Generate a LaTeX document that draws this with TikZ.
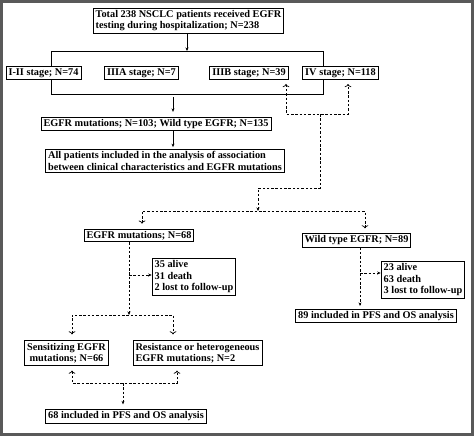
\documentclass[tikz,border=0pt]{standalone}
\usepackage{fontspec}
\setmainfont{Liberation Serif}
\usetikzlibrary{arrows.meta}

\tikzset{
  box/.style={draw, line width=0.9pt, align=left, inner xsep=2.5pt, inner ysep=2pt,
    font=\fontsize{10.3}{11.5}\selectfont\bfseries},
  link/.style={line width=0.7pt, -{Stealth[length=3.5pt,width=3pt]}},
  dlink/.style={link, dash pattern=on 2.5pt off 1.8pt},
}

\begin{document}
\begin{tikzpicture}[x=1pt,y=-1pt]
    % Marco
    \useasboundingbox (0,0) rectangle (474,436);
    \draw[gray!70!black, line width=3pt] (1.5,1.5) rectangle (472.5,434.5);

    % Cajas
    \node[box] (top) at (188.5,20.5) {Total 238 NSCLC patients received EGFR\\testing during hospitalization; N=238};
    \node[box] (s12) at (43.5,73) {I-II stage; N=74};
    \node[box] (s3a) at (141.5,73) {IIIA stage; N=7};
    \node[box] (s3b) at (249,73) {IIIB stage; N=39};
    \node[box] (s4) at (340.5,73) {IV stage; N=118};
    \node[box] (egfr) at (156,124) {EGFR mutations; N=103; Wild type EGFR; N=135};
    \node[box] (allpat) at (165,161) {All patients included in the analysis of association\\between clinical characteristics and EGFR mutations};
    \node[box] (mut) at (139,235.5) {EGFR mutations; N=68};
    \node[box] (wild) at (356.5,240.5) {Wild type EGFR; N=89};
    \node[box] (mutout) at (194,277) {35 alive\\31 death\\2 lost to follow-up};
    \node[box] (wildout) at (423,280) {23 alive\\63 death\\3 lost to follow-up};
    \node[box] (wildinc) at (376,316) {89 included in PFS and OS analysis};
    \node[box, align=center] (sens) at (66.5,353) {Sensitizing EGFR\\mutations; N=66};
    \node[box] (resist) at (197.5,353) {Resistance or heterogeneous\\EGFR mutations; N=2};
    \node[box] (mutinc) at (126,416.5) {68 included in PFS and OS analysis};

    % Puntos de quiebre
    \coordinate (tl) at (51,51);
    \coordinate (tr) at (323,51);
    \coordinate (tm) at (187,51);
    \coordinate (bl) at (51,94);
    \coordinate (br) at (323,94);
    \coordinate (bm) at (173,94);
    \coordinate (d3) at (286,114);
    \coordinate (d4) at (348,114);
    \coordinate (dj) at (320,114);
    \coordinate (dk) at (320,188);
    \coordinate (dm) at (258,188);
    \coordinate (ds) at (258,211);
    \coordinate (sl) at (142,211);
    \coordinate (sr) at (365,211);
    \coordinate (mb) at (129,275);
    \coordinate (mj) at (129,315);
    \coordinate (ml) at (72,315);
    \coordinate (mr) at (173,315);
    \coordinate (nl) at (72,383);
    \coordinate (nr) at (177,383);
    \coordinate (nm) at (123,383);
    \coordinate (wj) at (360,273);

    % Lineas continuas
    \draw[link] (tm |- top.south) -- (tm);
    \draw[line width=0.7pt] (s12.north -| tl) -- (tl) -- (tr) -- (s4.north -| tr);
    \draw[line width=0.7pt] (s12.south -| bl) -- (bl) -- (br) -- (s4.south -| br);
    \draw[link, shorten <=3pt, shorten >=5pt] (bm) -- (bm |- egfr.north);
    \draw[link, shorten >=2pt] (bm |- egfr.south) -- (bm |- allpat.north);

    % Lineas discontinuas
    \draw[dlink, <->, shorten <=4pt, shorten >=4pt] (d3 |- s3b.south) -- (d3) -- (d4) -- (d4 |- s4.south);
    \draw[dlink] (dj) -- (dk) -- (dm) -- (ds);
    \draw[dlink, <->, shorten <=5pt, shorten >=5pt] (sl |- mut.north) -- (sl) -- (sr) -- (sr |- wild.north);
    \draw[dlink] (mj |- mut.south) -- (mj);
    \draw[dlink] (mb) -- (mb -| mutout.west);
    \draw[dlink, <->, shorten <=6pt, shorten >=6pt] (ml |- sens.north) -- (ml) -- (mr) -- (mr |- resist.north);
    \draw[dlink, <->, shorten <=5pt, shorten >=5pt] (nl |- sens.south) -- (nl) -- (nr) -- (nr |- resist.south);
    \draw[dlink, shorten >=5pt] (nm) -- (nm |- mutinc.north);
    \draw[dlink, shorten >=3pt] (wj |- wild.south) -- (wj |- wildinc.north);
    \draw[dlink] (wj) -- (wj -| wildout.west);
\end{tikzpicture}
\end{document}
